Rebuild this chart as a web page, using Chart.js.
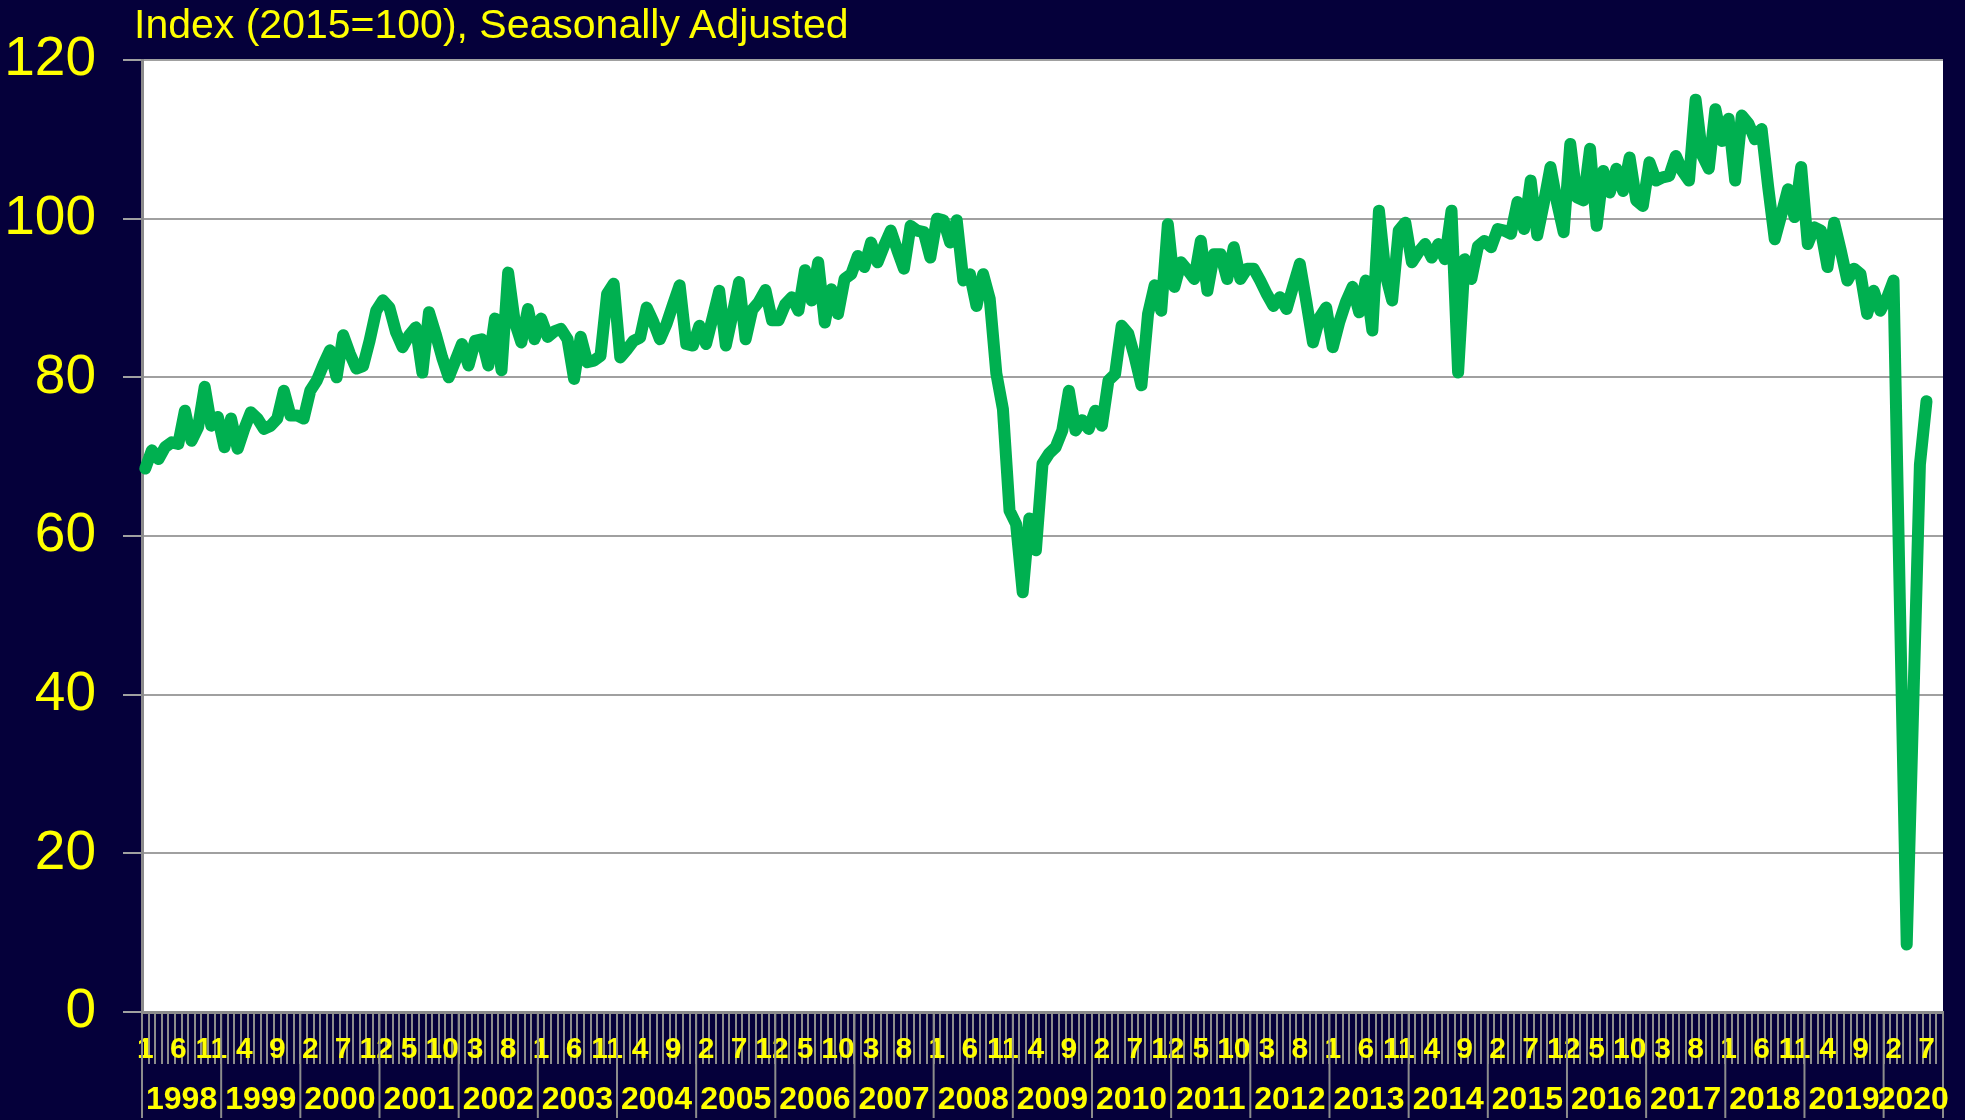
<!DOCTYPE html>
<html>
<head>
<meta charset="utf-8">
<script src="https://cdn.jsdelivr.net/npm/chart.js@4.4.1/dist/chart.umd.min.js"></script>
<style>
  html, body { margin: 0; padding: 0; background: #05003a; }
  #wrap { position: relative; width: 1965px; height: 1120px; }
  #title { position: absolute; left: 134px; top: 4px; font: 41px "Liberation Sans", Arial, sans-serif;
           color: #ffff00; line-height: 40px; white-space: nowrap; }
  canvas { position: absolute; left: 0; top: 0; }
</style>
</head>
<body>
<div id="wrap">
  <canvas id="chart" width="1965" height="1120"></canvas>
  <div id="title">Index (2015=100), Seasonally Adjusted</div>
</div>

<script>
    // axis runs Jan 1998 .. Sep 2020, data ends Jul 2020
    var years = [1998, 1999, 2000, 2001, 2002, 2003, 2004, 2005, 2006, 2007, 2008,
                 2009, 2010, 2011, 2012, 2013, 2014, 2015, 2016, 2017, 2018, 2019, 2020];
    var monthsOnAxis = 273;
    var monthLabelEvery = 5;
    var yTicks = [0, 20, 40, 60, 80, 100, 120];

    var values = [
        68.5, 70.8, 69.7, 71.2, 71.8, 71.6, 75.8, 72.0, 73.7, 78.8, 73.9, 75.0,   // 1998
        71.2, 74.8, 71.0, 73.5, 75.6, 74.8, 73.5, 73.9, 74.8, 78.3, 75.2, 75.2,   // 1999
        74.8, 78.3, 79.6, 81.6, 83.4, 80.0, 85.3, 83.0, 81.1, 81.4, 84.6, 88.4,   // 2000
        89.7, 88.8, 85.7, 83.8, 85.3, 86.3, 80.6, 88.2, 85.5, 82.5, 80.0, 82.1,   // 2001
        84.2, 81.5, 84.6, 84.8, 81.5, 87.4, 80.9, 93.2, 87.0, 84.4, 88.6, 84.8,   // 2002
        87.4, 85.1, 85.8, 86.1, 84.8, 79.8, 85.1, 81.9, 82.1, 82.7, 90.5, 91.8,   // 2003
        82.5, 83.5, 84.6, 85.0, 88.8, 87.0, 84.8, 86.7, 89.2, 91.6, 84.2, 84.0,   // 2004
        86.5, 84.2, 87.5, 90.9, 84.0, 87.9, 92.0, 84.8, 88.5, 89.5, 91.0, 87.2,   // 2005
        87.2, 89.2, 90.1, 88.4, 93.5, 89.7, 94.5, 86.9, 91.1, 88.0, 92.4, 93.0,   // 2006
        95.3, 93.9, 97.0, 94.5, 96.6, 98.5, 96.0, 93.7, 99.1, 98.5, 98.3, 95.1,   // 2007
        100.0, 99.8, 97.0, 99.8, 92.2, 93.0, 89.0, 93.0, 89.9, 80.5, 76.0, 63.2,  // 2008
        61.5, 52.9, 62.2, 58.2, 69.1, 70.4, 71.2, 73.3, 78.3, 73.3, 74.6, 73.5,   // 2009
        75.8, 73.9, 79.6, 80.4, 86.5, 85.5, 82.5, 79.0, 88.0, 91.6, 88.4, 99.3,   // 2010
        91.4, 94.5, 93.5, 92.4, 97.2, 90.9, 95.5, 95.5, 92.4, 96.4, 92.4, 93.7,   // 2011
        93.7, 92.2, 90.5, 89.0, 90.1, 88.6, 91.5, 94.3, 89.5, 84.4, 87.5, 88.8,   // 2012
        83.8, 87.0, 89.5, 91.4, 88.2, 92.2, 85.9, 101.0, 93.0, 89.7, 98.5, 99.5,  // 2013
        94.5, 95.8, 96.8, 95.1, 96.8, 94.9, 101.0, 80.6, 94.9, 92.4, 96.5, 97.2,  // 2014
        96.4, 98.7, 98.5, 98.1, 102.1, 98.7, 104.8, 97.9, 102.0, 106.5, 102.0, 98.3,     // 2015
        109.4, 102.7, 102.3, 108.8, 99.1, 106.0, 103.3, 106.3, 103.5, 107.7, 102.3, 101.6, // 2016
        107.1, 104.8, 105.2, 105.4, 107.9, 106.0, 104.8, 115.0, 108.0, 106.3, 113.8, 109.8, // 2017
        112.6, 104.8, 113.0, 112.0, 110.0, 111.3, 104.0, 97.4, 100.5, 103.7, 100.2, 106.5,  // 2018
        96.8, 98.9, 98.5, 93.9, 99.5, 96.0, 92.2, 93.7, 93.0, 88.0, 90.9, 88.4,   // 2019
        90.0, 92.2, 50.0, 8.5, 39.0, 69.0, 77.0                                   // 2020
    ];

    var labels = [];
    for (var i = 0; i < monthsOnAxis; i++) {
        labels.push(years[Math.floor(i / 12)] + '-' + (i % 12 + 1));
    }

    var fontFam = '"Liberation Sans", Arial, sans-serif';
    var axisGray = '#8c8c8c';

    // white plot area + year row under the month labels
    var yearRow = {
        id: 'yearRow',
        beforeDraw: function (chart) {
            var a = chart.chartArea, c = chart.ctx;
            c.save();
            c.fillStyle = '#ffffff';
            c.fillRect(a.left, a.top, a.right - a.left, a.bottom - a.top);
            c.restore();
        },
        afterDraw: function (chart) {
            var a = chart.chartArea, c = chart.ctx, x = chart.scales.x;
            var half = (x.getPixelForValue(1) - x.getPixelForValue(0)) / 2;
            c.save();
            c.strokeStyle = axisGray;
            c.lineWidth = 2;
            c.fillStyle = '#ffff00';
            c.font = 'bold 32px ' + fontFam;
            c.textAlign = 'center';
            c.textBaseline = 'middle';
            for (var k = 0; k < years.length; k++) {
                var s = k * 12;
                var e = Math.min(s + 12, monthsOnAxis);
                var x0 = x.getPixelForValue(s) - half;
                var x1 = x.getPixelForValue(e - 1) + half;
                c.beginPath();
                c.moveTo(x0, a.bottom);
                c.lineTo(x0, 1118);
                if (k == years.length - 1) {
                    c.moveTo(x1, a.bottom);
                    c.lineTo(x1, 1118);
                }
                c.stroke();
                c.fillText(String(years[k]), (x0 + x1) / 2, 1100);
            }
            c.restore();
        }
    };

    new Chart(document.getElementById('chart'), {
        type: 'line',
        data: {
            labels: labels,
            datasets: [{
                data: values,
                borderColor: '#00b050',
                borderWidth: 12,
                pointRadius: 0,
                tension: 0,
                fill: false,
                borderJoinStyle: 'round',
                borderCapStyle: 'round'
            }]
        },
        options: {
            responsive: false,
            animation: false,
            layout: { padding: { left: 0, right: 22, top: 59, bottom: 0 } },
            plugins: {
                legend: { display: false },
                tooltip: { enabled: false },
                title: { display: false }
            },
            scales: {
                x: {
                    type: 'category',
                    offset: true,
                    grid: { offset: true, drawOnChartArea: false, drawTicks: true, tickLength: 52,
                            color: axisGray, lineWidth: 2 },
                    border: { color: axisGray, width: 3 },
                    ticks: {
                        autoSkip: false, maxRotation: 0, minRotation: 0, padding: -32,
                        color: '#ffff00',
                        font: { family: fontFam, size: 30, weight: 'bold' },
                        callback: function (v, idx) {
                            return idx % monthLabelEvery === 0 ? String(idx % 12 + 1) : '';
                        }
                    },
                    afterFit: function (s) { s.height = 108; }
                },
                y: {
                    min: 0,
                    max: 120,
                    afterBuildTicks: function (s) {
                        s.ticks = yTicks.map(function (v) { return { value: v }; });
                    },
                    grid: { color: '#a0a0a0', lineWidth: 2, drawTicks: true, tickLength: 19 },
                    border: { color: axisGray, width: 3 },
                    ticks: { color: '#ffff00', padding: 27, font: { family: fontFam, size: 55 } },
                    afterFit: function (s) { s.width = 142; }
                }
            }
        },
        plugins: [yearRow]
    });
</script>
</body>
</html>
